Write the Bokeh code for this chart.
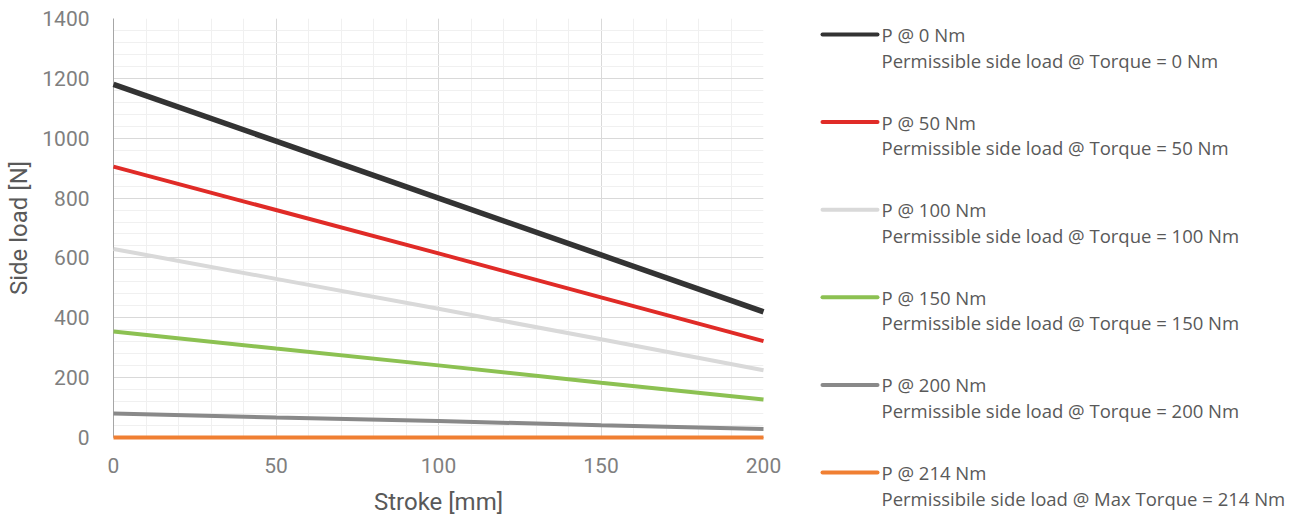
from bokeh.plotting import figure
from bokeh.models import Range1d, SingleIntervalTicker, ColumnDataSource
from bokeh.core.properties import value
from bokeh.embed import file_html
from bokeh.resources import INLINE

stroke = [0, 50, 100, 150, 200]
p_0 = [1180, 990, 800, 610, 420]
p_50 = [905, 760, 615, 468, 322]
p_100 = [630, 530, 430, 328, 225]
p_150 = [354, 297, 241, 183, 127]
p_200 = [80, 67, 55, 41, 28]
p_214 = [0, 0, 0, 0, 0]

series = [p_0, p_50, p_100, p_150, p_200, p_214]
names = ["P @ 0 Nm", "P @ 50 Nm", "P @ 100 Nm", "P @ 150 Nm", "P @ 200 Nm", "P @ 214 Nm"]
descs = ["Permissible side load @ Torque = 0 Nm",
         "Permissible side load @ Torque = 50 Nm",
         "Permissible side load @ Torque = 100 Nm",
         "Permissible side load @ Torque = 150 Nm",
         "Permissible side load @ Torque = 200 Nm",
         "Permissibile side load @ Max Torque = 214 Nm"]
colors = ["#333333", "#e02b27", "#d9d9d9", "#8cc152", "#898989", "#f07f32"]
widths = [5.5, 4, 4, 4, 4, 4]

FL, FR, FT, FB = 113, 763, 18, 437  # frame edges in page pixels
W, H = 1293, 519

p = figure(width=W, height=H, output_backend="svg", toolbar_location=None,
           x_range=Range1d(0, 200), y_range=Range1d(0, 1400),
           min_border_left=FL, min_border_right=W - FR, min_border_top=FT,
           min_border_bottom=H - FB)
p.outline_line_color = None
p.background_fill_color = "white"
p.border_fill_color = "white"

p.xaxis.ticker = SingleIntervalTicker(interval=50, num_minor_ticks=5)
p.yaxis.ticker = SingleIntervalTicker(interval=200, num_minor_ticks=5)
p.xgrid.grid_line_color = "#d9d9d9"
p.ygrid.grid_line_color = "#d9d9d9"
p.xgrid.minor_grid_line_color = "#f0f0f0"
p.ygrid.minor_grid_line_color = "#f0f0f0"

for ax in (p.xaxis, p.yaxis):
    ax.major_tick_line_color = None
    ax.minor_tick_line_color = None
    ax.axis_line_color = "#a6a6a6"
    ax.major_label_text_font = "Roboto"
    ax.major_label_text_font_size = "21px"
    ax.major_label_text_color = "#7f7f7f"
    ax.axis_label_text_font = "Roboto"
    ax.axis_label_text_font_size = "24px"
    ax.axis_label_text_font_style = "normal"
    ax.axis_label_text_color = "#595959"

p.xaxis.axis_label = "Stroke [mm]"
p.yaxis.axis_label = "Side load [N]"
p.yaxis.major_label_standoff = 18
p.xaxis.major_label_standoff = 14
p.yaxis.axis_label_standoff = 6
p.xaxis.axis_label_standoff = 12

for ys, c, w in zip(series, colors, widths):
    p.line(stroke, ys, line_color=c, line_width=w, level="overlay")

# legend drawn in page-pixel coordinates outside the frame
p.extra_x_ranges = {"px": Range1d(FL, FR)}
p.extra_y_ranges = {"px": Range1d(FB, FT)}

idx = list(range(len(names)))
y1 = [34 + 87.6 * i for i in idx]
y2 = [59.5 + 87.6 * i for i in idx]
src = ColumnDataSource(dict(x0=[822] * 6, x1=[877] * 6, y1=y1, y2=y2, name=names, desc=descs,
                            color=colors, tx=[881] * 6))
p.segment(x0="x0", y0="y1", x1="x1", y1="y1", line_color="color", line_width=4,
          line_cap="round", source=src, x_range_name="px", y_range_name="px", level="overlay")
p.text(x="tx", y="y1", text="name", text_font=value("Open Sans"), text_font_size="18.5px",
       text_color="#595959", text_baseline="middle", source=src,
       x_range_name="px", y_range_name="px", level="overlay")
p.text(x="tx", y="y2", text="desc", text_font=value("Open Sans"), text_font_size="18.5px",
       text_color="#595959", text_baseline="middle", source=src,
       x_range_name="px", y_range_name="px", level="overlay")

open("out.html", "w").write(file_html(p, INLINE))
